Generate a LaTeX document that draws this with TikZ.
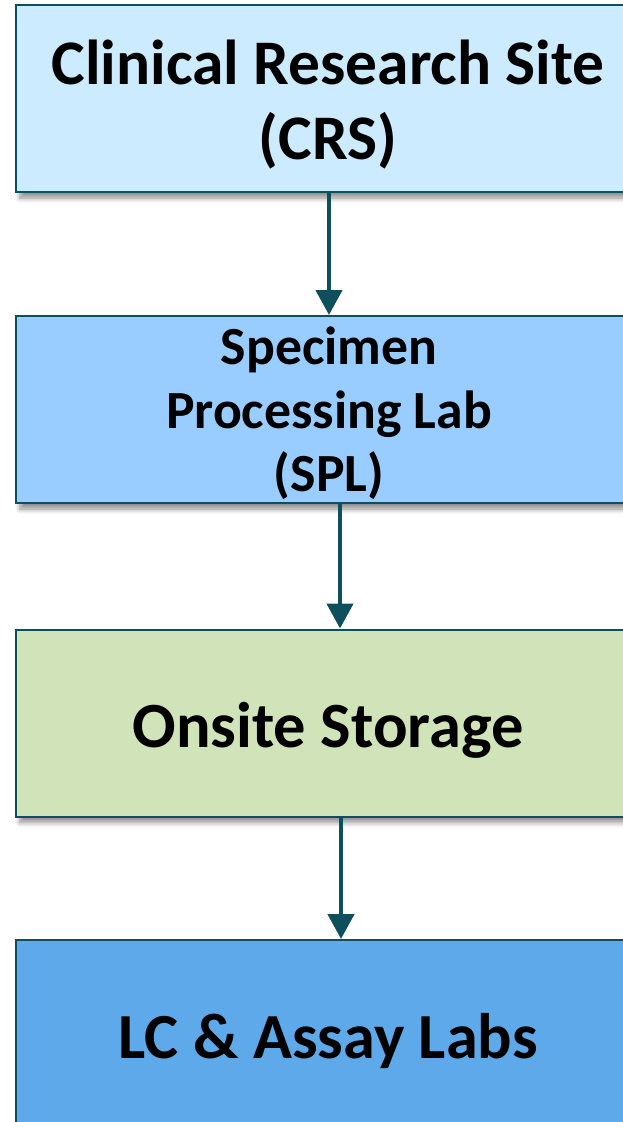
\documentclass[tikz,border=0pt]{standalone}
\usepackage{fontspec}
\setmainfont{Carlito}
\usetikzlibrary{shadows.blur,arrows.meta}
\definecolor{edgec}{HTML}{0D4F5C}
\definecolor{crsc}{HTML}{CCEBFF}
\definecolor{splc}{HTML}{99CCFF}
\definecolor{stoc}{HTML}{D1E3B9}
\definecolor{labc}{HTML}{5DA9E9}
\tikzset{
  stagebox/.style={draw=edgec, line width=2pt, minimum width=624pt, minimum height=187pt,
    inner sep=0pt,
    blur shadow={shadow xshift=4pt, shadow yshift=-6pt, shadow blur steps=6, shadow opacity=45, shadow blur radius=5pt}},
  stagetext/.style={inner sep=0pt, align=center},
  flow/.style={draw=edgec, line width=4.5pt, -{Triangle[length=25pt,width=26pt]}}
}
\begin{document}
\begin{tikzpicture}[x=1pt,y=-1pt]
\useasboundingbox (0,0) rectangle (622,1122);
\node[stagebox, fill=crsc] (crs) at (328,98.5) {};
\node[stagebox, fill=splc] (spl) at (328,409.5) {};
\node[stagebox, fill=stoc] (sto) at (328,723) {};
\node[stagebox, fill=labc] (lab) at (328,1033.5) {};
\node[stagetext, font=\fontsize{63.5}{75}\selectfont\bfseries] (crst) at (328,104.5) {Clinical Research Site\\(CRS)};
\node[stagetext, font=\fontsize{53.7}{63.5}\selectfont\bfseries] (splt) at (329,413.5) {Specimen\\Processing Lab\\(SPL)};
\node[stagetext, font=\fontsize{64.5}{75}\selectfont\bfseries] (stot) at (328,730) {Onsite Storage};
\node[stagetext, font=\fontsize{64.3}{75}\selectfont\bfseries] (labt) at (328,1040.5) {LC \& Assay Labs};
\draw[flow] (crs.south -| 329,0) -- (spl.north -| 329,0);
\draw[flow] (spl.south -| 340,0) -- (sto.north -| 340,0);
\draw[flow] (sto.south -| 341,0) -- (lab.north -| 341,0);
\end{tikzpicture}
\end{document}
